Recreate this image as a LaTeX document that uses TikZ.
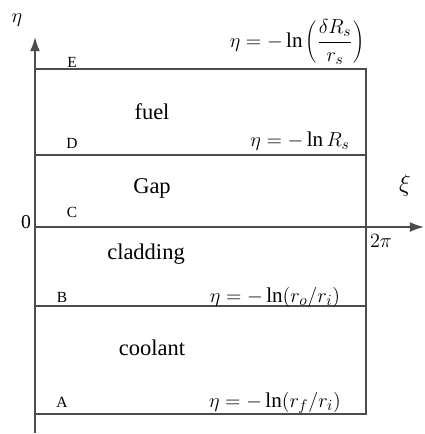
\documentclass[tikz,border=0pt]{standalone}
\usepackage{fontspec}
\setmainfont{Liberation Serif}
\usetikzlibrary{arrows.meta}

\begin{document}
\begin{tikzpicture}[
  x=0.025cm, y=-0.025cm,
  bnd/.style={draw=black!70, line width=1.1pt},
  axis/.style={bnd, -{Latex[length=10pt, width=7pt]}},
  region/.style={font=\fontsize{16}{18}\selectfont},
  corner/.style={font=\fontsize{11}{12}\selectfont},
  albl/.style={font=\fontsize{14}{16}\selectfont, inner sep=1pt},
  eqn/.style={font=\fontsize{15}{17}\selectfont, inner sep=1pt},
]
\useasboundingbox (0,0) rectangle (425,434);

% Corners of the domain
\coordinate (tl) at (35,69);
\coordinate (tr) at (366,69);
\coordinate (dl) at (35,155);
\coordinate (dr) at (366,155);
\coordinate (cl) at (35,227);
\coordinate (cr) at (366,227);
\coordinate (bl) at (35,306);
\coordinate (br) at (366,306);
\coordinate (al) at (35,414);
\coordinate (ar) at (366,414);

% Axes
\coordinate (ybot) at (35,433);
\coordinate (ytop) at (35,37);
\coordinate (xend) at (424,227);
\draw[axis] (ybot) -- (ytop);
\draw[axis] (cl) -- (xend);

% Domain outline and layer boundaries
\draw[bnd] (tl) -- (tr) -- (ar) -- (al);
\draw[bnd] (dl) -- (dr);
\draw[bnd] (bl) -- (br);

% Axis labels
\node[albl] (eta)   at (17,20)   {$\eta$};
\node[albl] (xi)    at (405,185) {\fontsize{17}{19}\selectfont$\xi$};
\node[albl] (zero)  at (26,222)  {0};
\node[albl] (twopi) at (381,241) {$2\pi$};

% Layers
\node[region] (fuel)     at (152,112) {fuel};
\node[region] (gap)      at (152,188) {Gap};
\node[region] (cladding) at (146,254) {cladding};
\node[region] (coolant)  at (152,348) {coolant};

% Point labels
\node[corner] (E) at (72,62)  {E};
\node[corner] (D) at (72,143) {D};
\node[corner] (C) at (72,212) {C};
\node[corner] (B) at (62,297) {B};
\node[corner] (A) at (62,402) {A};

% Boundary equations
\node[eqn] (eqE) at (297,42)  {$\eta = -\ln\left(\displaystyle\frac{\delta R_s}{r_s}\right)$};
\node[eqn] (eqD) at (300,141) {$\eta = -\ln R_s$};
\node[eqn] (eqB) at (275,297) {$\eta = -\ln(r_o/r_i)$};
\node[eqn] (eqA) at (275,403) {$\eta = -\ln(r_f/r_i)$};
\end{tikzpicture}
\end{document}
